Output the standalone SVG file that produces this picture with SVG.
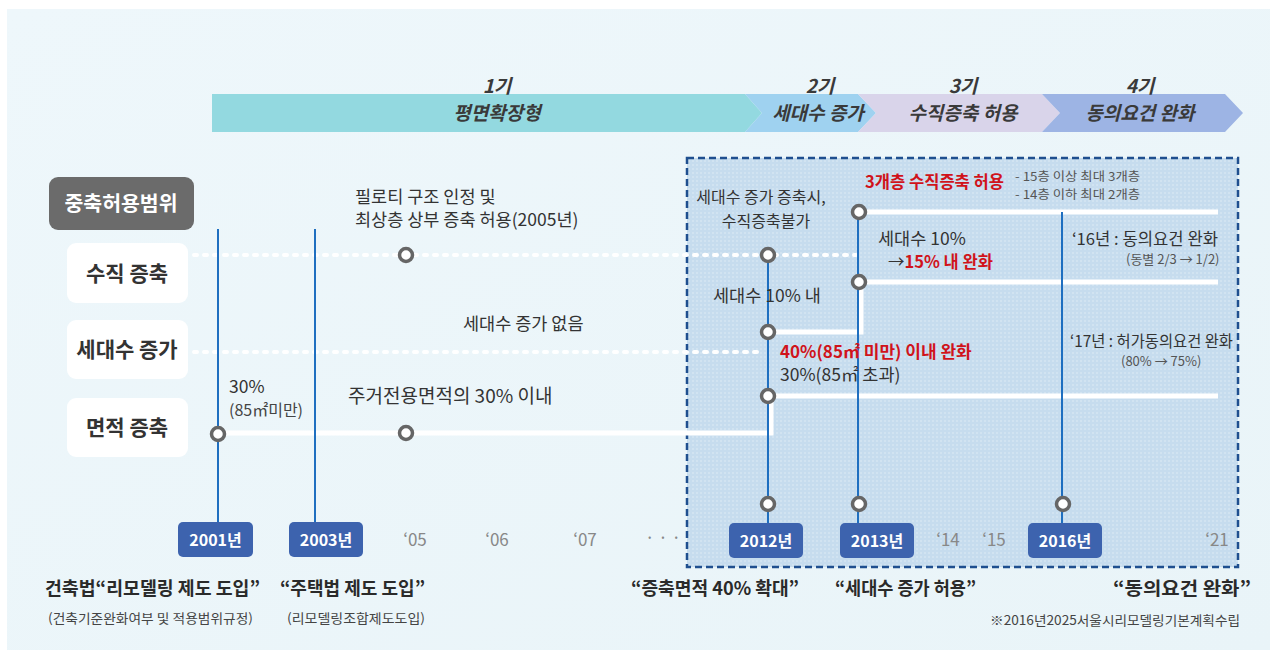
<svg xmlns="http://www.w3.org/2000/svg" width="1277" height="658" viewBox="0 0 1277 658">
<defs>
<pattern id="dots" width="4" height="4" patternUnits="userSpaceOnUse"><circle cx="1" cy="1" r="0.7" fill="#ffffff" opacity="0.55"/></pattern>
<linearGradient id="bg" x1="0" y1="0" x2="1" y2="1"><stop offset="0" stop-color="#eef7fb"/><stop offset="1" stop-color="#e9f4f8"/></linearGradient>
<style>
text{font-family:"Noto Sans CJK KR","Noto Sans",sans-serif;fill:#333}
.band{font-style:italic;font-weight:700;font-size:19px;text-anchor:middle;fill:#3a3a3a}
.row{font-weight:700;font-size:21px;text-anchor:middle;fill:#333}
.t{font-size:17.5px;fill:#333}
.red{font-size:17px;font-weight:700;fill:#d0131b}
.sm{font-size:13px;fill:#555}
.yr{font-size:16px;font-weight:700;fill:#fff;text-anchor:middle}
.tick{font-size:17px;fill:#888;text-anchor:middle}
.hd{font-size:18.5px;font-weight:700;fill:#2a2a2a}
.sub{font-size:13px;fill:#444}
.vl{stroke:#1f6fc0;stroke-width:2;fill:none}
.wl{stroke:#ffffff;stroke-width:5;fill:none}
.dl{stroke:#ffffff;stroke-width:4;fill:none;stroke-dasharray:3 7;stroke-linecap:round}
.c{fill:#fff;stroke:#666;stroke-width:3.5}
.ybox{fill:#3d63ae}
</style>
</defs>
<rect x="0" y="0" width="1277" height="658" fill="#ffffff"/>
<rect x="7" y="9" width="1263" height="641" fill="url(#bg)"/>

<g id="period-bands">
<polygon points="212,94 745,94 762,113 745,132 212,132" fill="#93d9e0"/>
<polygon points="745,94 858,94 876,113 858,132 745,132 762,113" fill="#9fd2f0"/>
<polygon points="858,94 1042,94 1060,113 1042,132 858,132 876,113" fill="#d9d4ea"/>
<polygon points="1042,94 1225,94 1243,113 1225,132 1042,132 1060,113" fill="#9db4e4"/>
<text class="band" x="497" y="93">1기</text>
<text class="band" x="497" y="120">평면확장형</text>
<text class="band" x="820" y="93">2기</text>
<text class="band" x="818" y="120">세대수 증가</text>
<text class="band" x="963" y="93">3기</text>
<text class="band" x="963" y="120">수직증축 허용</text>
<text class="band" x="1140" y="93">4기</text>
<text class="band" x="1140" y="120">동의요건 완화</text>
</g>

<g id="recent-period">
<rect x="687" y="158" width="551" height="409" fill="#c6dcee"/>
<rect x="687" y="158" width="551" height="409" fill="url(#dots)"/>
<rect x="687" y="158" width="551" height="409" fill="none" stroke="#1f4f8f" stroke-width="2.5" stroke-dasharray="7 4"/>
</g>

<g id="category-header">
<rect x="49" y="177" width="145" height="53" rx="9" fill="#6b6b6b"/>
<text x="121" y="211" font-size="20.5" font-weight="700" text-anchor="middle" style="fill:#fff">중축허용범위</text>
</g>
<g id="row-vertical">
<rect x="67" y="243" width="121" height="60" rx="9" fill="#fff"/>
<text class="row" x="127" y="281">수직 증축</text>
</g>
<g id="row-units">
<rect x="67" y="320" width="121" height="59" rx="9" fill="#fff"/>
<text class="row" x="127" y="357">세대수 증가</text>
</g>
<g id="row-area">
<rect x="67" y="398" width="121" height="59" rx="9" fill="#fff"/>
<text class="row" x="127" y="435">면적 증축</text>
</g>

<g id="connectors">
<line class="dl" x1="194" y1="255" x2="856" y2="255"/>
<line class="dl" x1="194" y1="352" x2="758" y2="352"/>
<polyline class="wl" points="222,433 771,433 771,396 1218,396"/>
<polyline class="wl" points="768,332 861,332 861,282 1218,282"/>
<line class="wl" x1="858" y1="212" x2="1218" y2="212"/>
<line class="vl" x1="218" y1="229" x2="218" y2="522"/>
<line class="vl" x1="315" y1="229" x2="315" y2="522"/>
<line class="vl" x1="768" y1="255" x2="768" y2="523"/>
<line class="vl" x1="858" y1="212" x2="858" y2="523"/>
<line class="vl" x1="1062" y1="212" x2="1062" y2="523"/>
</g>

<g id="points">
<circle class="c" cx="218" cy="434" r="6.5"/>
<circle class="c" cx="406" cy="255" r="6.5"/>
<circle class="c" cx="406" cy="433" r="6.5"/>
<circle class="c" cx="768" cy="255" r="6.5"/>
<circle class="c" cx="768" cy="332" r="6.5"/>
<circle class="c" cx="768" cy="396" r="6.5"/>
<circle class="c" cx="768" cy="504" r="6.5"/>
<circle class="c" cx="859" cy="212" r="6.5"/>
<circle class="c" cx="859" cy="282" r="6.5"/>
<circle class="c" cx="859" cy="504" r="6.5"/>
<circle class="c" cx="1063" cy="504" r="6.5"/>
</g>

<g id="annotations">
<text class="t" x="229" y="393">30%</text>
<text x="229" y="416" font-size="16" style="fill:#444">(85㎡미만)</text>
<text class="t" x="355" y="203">필로티 구조 인정 및</text>
<text class="t" x="355" y="226">최상층 상부 증축 허용(2005년)</text>
<text class="t" x="463" y="330">세대수 증가 없음</text>
<text x="348" y="403" font-size="19" style="fill:#333">주거전용면적의 30% 이내</text>
<text x="761" y="203" font-size="16" text-anchor="middle">세대수 증가 증축시,</text>
<text x="766" y="227" font-size="16" text-anchor="middle">수직증축불가</text>
<text class="red" x="865" y="188" textLength="139" lengthAdjust="spacingAndGlyphs">3개층 수직증축 허용</text>
<text x="1015" y="181" font-size="12" style="fill:#555" textLength="125" lengthAdjust="spacingAndGlyphs">- 15층 이상 최대 3개층</text>
<text x="1015" y="199" font-size="12" style="fill:#555" textLength="125" lengthAdjust="spacingAndGlyphs">- 14층 이하 최대 2개층</text>
<text class="t" x="878" y="245">세대수 10%</text>
<text x="888" y="268" font-size="16.5" style="fill:#333">→<tspan style="fill:#d0131b;font-weight:700">15% 내 완화</tspan></text>
<text class="t" x="713" y="302">세대수 10% 내</text>
<text class="red" x="780" y="358">40%(85㎡ 미만) 이내 완화</text>
<text class="t" x="780" y="381">30%(85㎡ 초과)</text>
<text x="1072" y="245" font-size="16.5" textLength="146" lengthAdjust="spacingAndGlyphs">‘16년 : 동의요건 완화</text>
<text class="sm" x="1126" y="264">(동별 2/3 → 1/2)</text>
<text x="1070" y="347" font-size="16" textLength="163" lengthAdjust="spacingAndGlyphs">‘17년 : 허가동의요건 완화</text>
<text class="sm" x="1121" y="366">(80% → 75%)</text>
</g>

<g id="years">
<rect class="ybox" x="178" y="522" width="75" height="35" rx="5"/>
<text class="yr" x="215.5" y="546">2001년</text>
<rect class="ybox" x="289" y="522" width="74" height="35" rx="5"/>
<text class="yr" x="326" y="546">2003년</text>
<rect class="ybox" x="729" y="523" width="74" height="35" rx="5"/>
<text class="yr" x="766" y="547">2012년</text>
<rect class="ybox" x="840" y="523" width="74" height="35" rx="5"/>
<text class="yr" x="877" y="547">2013년</text>
<rect class="ybox" x="1028" y="523" width="74" height="35" rx="5"/>
<text class="yr" x="1065" y="547">2016년</text>
<text class="tick" x="415" y="546">‘05</text>
<text class="tick" x="497" y="546">‘06</text>
<text class="tick" x="585" y="546">‘07</text>
<text class="tick" x="663" y="544">· · ·</text>
<text class="tick" x="948" y="546">‘14</text>
<text class="tick" x="994" y="546">‘15</text>
<text class="tick" x="1217" y="546">‘21</text>
</g>

<g id="milestones">
<text class="hd" x="45" y="595" textLength="215" lengthAdjust="spacingAndGlyphs">건축법“리모델링 제도 도입”</text>
<text class="sub" x="48" y="623" textLength="205" lengthAdjust="spacingAndGlyphs">(건축기준완화여부 및 적용범위규정)</text>
<text class="hd" x="280" y="595" textLength="145" lengthAdjust="spacingAndGlyphs">“주택법 제도 도입”</text>
<text class="sub" x="287" y="623" textLength="138" lengthAdjust="spacingAndGlyphs">(리모델링조합제도도입)</text>
<text class="hd" x="631" y="595" textLength="168" lengthAdjust="spacingAndGlyphs">“증축면적 40% 확대”</text>
<text class="hd" x="835" y="595" textLength="141" lengthAdjust="spacingAndGlyphs">“세대수 증가 허용”</text>
<text class="hd" x="1113" y="595" textLength="138" lengthAdjust="spacingAndGlyphs">“동의요건 완화”</text>
<text class="sub" x="990" y="625" textLength="250" lengthAdjust="spacingAndGlyphs">※2016년2025서울시리모델링기본계획수립</text>
</g>
</svg>
